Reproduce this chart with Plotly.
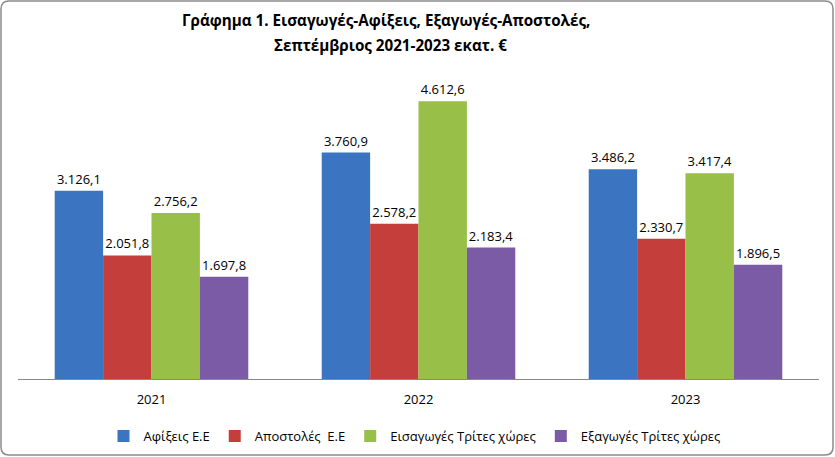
import plotly.graph_objects as go

years = ["2021", "2022", "2023"]
series_names = ["Αφίξεις Ε.Ε", "Αποστολές  Ε.Ε", "Εισαγωγές Τρίτες χώρες", "Εξαγωγές Τρίτες χώρες"]
afixeis = [3126.1, 3760.9, 3486.2]
apostoles = [2051.8, 2578.2, 2330.7]
eisagoges = [2756.2, 4612.6, 3417.4]
exagoges = [1697.8, 2183.4, 1896.5]
colors = ["#3B74C0", "#C43E3C", "#98BF47", "#7B5AA6"]
title_lines = ["Γράφημα 1. Εισαγωγές-Αφίξεις, Εξαγωγές-Αποστολές,",
               "Σεπτέμβριος 2021-2023 εκατ. €"]

W, H = 835, 457
L, R, T, B = 18, 16, 78, 78
pw, ph = W - L - R, H - T - B

fig = go.Figure()
for name, vals, col in zip(series_names, [afixeis, apostoles, eisagoges, exagoges], colors):
    fig.add_trace(go.Bar(
        x=years, y=vals, name=name,
        marker=dict(color=col, line=dict(width=0)),
        texttemplate="%{y:,.1f}", textposition="outside",
        textfont=dict(size=13, color="#000000", family="Open Sans"),
        cliponaxis=False, hoverinfo="skip",
    ))

def px2x(p):
    return (p - L) / pw

def py2y(p):
    return (H - B - p) / ph

# rounded border
x0, x1, y0, y1, r = 1, 833, 1, 455, 8
path = (f"M {px2x(x0 + r)},{py2y(y0)} L {px2x(x1 - r)},{py2y(y0)} "
        f"Q {px2x(x1)},{py2y(y0)} {px2x(x1)},{py2y(y0 + r)} "
        f"L {px2x(x1)},{py2y(y1 - r)} Q {px2x(x1)},{py2y(y1)} {px2x(x1 - r)},{py2y(y1)} "
        f"L {px2x(x0 + r)},{py2y(y1)} Q {px2x(x0)},{py2y(y1)} {px2x(x0)},{py2y(y1 - r)} "
        f"L {px2x(x0)},{py2y(y0 + r)} Q {px2x(x0)},{py2y(y0)} {px2x(x0 + r)},{py2y(y0)} Z")

annotations = []
for txt, cx, cy in zip(title_lines, [386, 390], [20, 45]):
    annotations.append(dict(
        text=f"<b>{txt}</b>", xref="paper", yref="paper",
        x=px2x(cx), y=py2y(cy), xanchor="center", yanchor="middle",
        showarrow=False, font=dict(size=15.2, family="Open Sans", color="#000000"),
    ))

fig.update_layout(
    width=W, height=H,
    margin=dict(l=L, r=R, t=T, b=B, autoexpand=False),
    paper_bgcolor="white", plot_bgcolor="white",
    separators=",.",
    barmode="group", bargap=0.275, bargroupgap=0,
    annotations=annotations,
    xaxis=dict(showline=True, linecolor="#888888", linewidth=1, ticks="",
               ticklabelstandoff=8,
               tickfont=dict(size=13, family="Open Sans", color="#000000"), showgrid=False),
    yaxis=dict(range=[0, 5000], visible=False, showgrid=False, zeroline=False),
    legend=dict(orientation="h", x=0.495, xanchor="center", y=-0.14, yanchor="top",
                font=dict(size=13, family="Open Sans", color="#000000"),
                itemwidth=30, traceorder="normal", itemsizing="constant"),
    shapes=[dict(type="path", path=path, xref="paper", yref="paper",
                 line=dict(color="#8C8C8C", width=1.5), fillcolor="rgba(0,0,0,0)", layer="below")],
    font=dict(family="Open Sans"),
)

fig.write_html("out.html", config={"displayModeBar": False},
               post_script="document.body.style.margin='0';document.body.style.overflow='hidden';")
